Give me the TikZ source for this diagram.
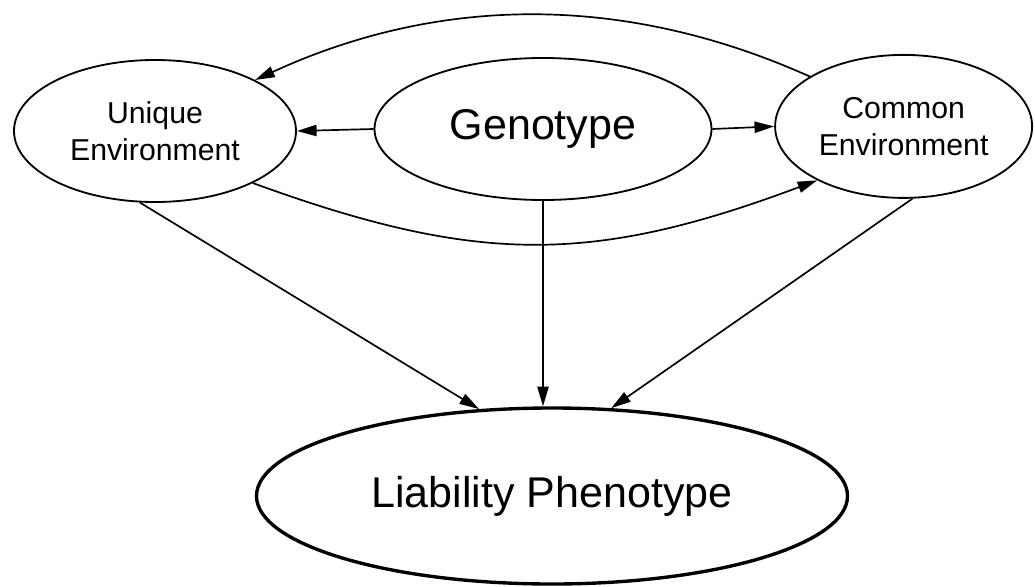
\documentclass[tikz,border=0pt]{standalone}
\usepackage{fontspec}
\setmainfont{Liberation Sans}
\usetikzlibrary{shapes.geometric}
\usetikzlibrary{arrows.meta}

\begin{document}
\begin{tikzpicture}[
  oval/.style={ellipse,draw,line width=1.3pt,inner sep=0pt,align=center},
  smalltext/.style={font=\fontsize{21.5}{26.3}\selectfont},
  bigtext/.style={font=\fontsize{30.6}{36}\selectfont},
  arr/.style={-{Triangle[length=14pt,width=8pt]},line width=1.2pt}
]
\useasboundingbox (0,0) rectangle (25.875,14.65);

\node[oval,smalltext,minimum width=7.05cm,minimum height=3.55cm] (U) at (3.875,11.375) {Unique\\Environment};
\node[oval,bigtext,minimum width=8.425cm,minimum height=3.55cm] (G) at (13.575,11.425) {Genotype};
\node[oval,smalltext,minimum width=6.425cm,minimum height=3.575cm] (C) at (22.59,11.49) {Common\\Environment};
\node[oval,bigtext,line width=2.4pt,minimum width=14.775cm,minimum height=4.4cm] (L) at (13.8,2.25) {Liability Phenotype};

\draw[arr] (G.west) -- (U.east);
\draw[arr] (G.east) -- (C.west);
\draw[arr] (C.152) .. controls +(-4.625,2.075) and +(4.625,2.125) .. (U.27);
\draw[arr] (U.332) .. controls +(5.625,-2.05) and +(-5.625,-2.1) .. (C.212);

\draw[arr] (U.258) -- (L.130);
\draw[arr] (G.south) -- (G.south |- L.north);
\draw[arr] (C.277) -- (L.56);

\end{tikzpicture}
\end{document}
